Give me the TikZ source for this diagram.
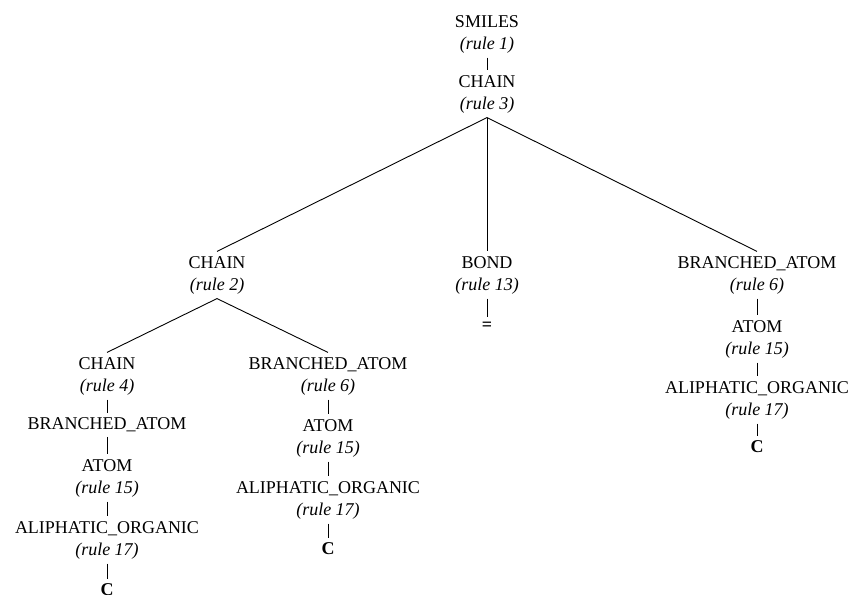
\documentclass[tikz,border=0pt]{standalone}
\usepackage{fontspec}
\setmainfont{Liberation Serif}
\usepackage{tikz}

\newcommand{\rulenum}[1]{\\\textit{(rule #1)}}

\begin{document}
\begin{tikzpicture}[x=1pt, y=-1pt,
    sym/.style={align=center, inner sep=4.5pt, font=\fontsize{18}{22}\selectfont},
    leaf/.style={inner sep=4.5pt, font=\fontsize{18}{22}\selectfont\bfseries},
    branch/.style={line width=0.9pt}]
    \useasboundingbox (0,0) rectangle (855,595);

    % Top of the tree
    \node[sym] (smiles) at (487,34) {SMILES\rulenum{1}};
    \node[sym] (chainTop) at (487,94) {CHAIN\rulenum{3}};

    % Second level
    \node[sym] (chainMid) at (217,275) {CHAIN\rulenum{2}};
    \node[sym] (bond) at (487,275) {BOND\rulenum{13}};
    \node[sym] (brRight) at (757,275) {BRANCHED\_ATOM\rulenum{6}};

    % Left branch
    \node[sym] (chainLeft) at (107,376) {CHAIN\rulenum{4}};
    \node[sym] (brLeft) at (107,425) {BRANCHED\_ATOM};
    \node[sym] (atomLeft) at (107,478) {ATOM\rulenum{15}};
    \node[sym] (aliLeft) at (107,540) {ALIPHATIC\_ORGANIC\rulenum{17}};
    \node[leaf] (cLeft) at (107,590) {C};

    % Middle branch
    \node[sym] (brMid) at (328,376) {BRANCHED\_ATOM\rulenum{6}};
    \node[sym] (atomMid) at (328,438) {ATOM\rulenum{15}};
    \node[sym] (aliMid) at (328,500) {ALIPHATIC\_ORGANIC\rulenum{17}};
    \node[leaf] (cMid) at (328,549) {C};

    % Bond leaf
    \node[leaf] (eq) at (487,326) {=};

    % Right branch
    \node[sym] (atomRight) at (757,339) {ATOM\rulenum{15}};
    \node[sym] (aliRight) at (757,400) {ALIPHATIC\_ORGANIC\rulenum{17}};
    \node[leaf] (cRight) at (757,447) {C};

    % Edges
    \draw[branch] (smiles.south) -- (chainTop.north);
    \draw[branch] (chainTop.south) -- (chainMid.north);
    \draw[branch] (chainTop.south) -- (bond.north);
    \draw[branch] (chainTop.south) -- (brRight.north);
    \draw[branch] (chainMid.south) -- (chainLeft.north);
    \draw[branch] (chainMid.south) -- (brMid.north);
    \draw[branch] (chainLeft.south) -- (brLeft.north);
    \draw[branch] (brLeft.south) -- (atomLeft.north);
    \draw[branch] (atomLeft.south) -- (aliLeft.north);
    \draw[branch] (aliLeft.south) -- (cLeft.north);
    \draw[branch] (brMid.south) -- (atomMid.north);
    \draw[branch] (atomMid.south) -- (aliMid.north);
    \draw[branch] (aliMid.south) -- (cMid.north);
    \draw[branch] (bond.south) -- (eq.north);
    \draw[branch] (brRight.south) -- (atomRight.north);
    \draw[branch] (atomRight.south) -- (aliRight.north);
    \draw[branch] (aliRight.south) -- (cRight.north);
\end{tikzpicture}
\end{document}
